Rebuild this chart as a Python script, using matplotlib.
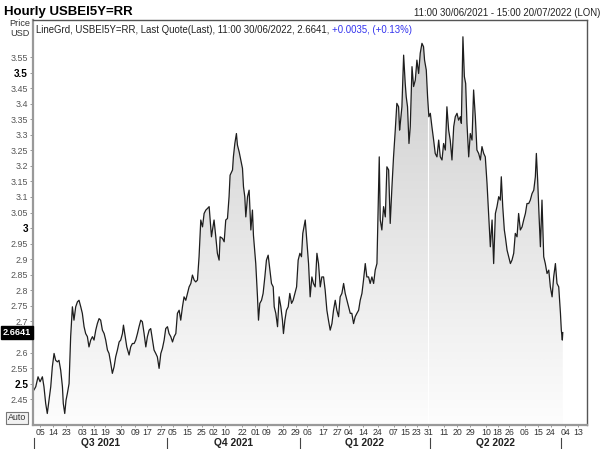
import numpy as np
import pandas as pd
import matplotlib
matplotlib.use('Agg')
import matplotlib.pyplot as plt
import matplotlib.dates as mdates
import matplotlib.transforms as mtransforms
from matplotlib.colors import LinearSegmentedColormap

plt.rcParams['font.family'] = ['Liberation Sans', 'DejaVu Sans']

start = pd.Timestamp('2021-06-30')

# days since 30/06/2021 and the quote at that time
day_offset = [
    0.7, 1.9, 3.5, 4.9, 6.5, 7.6, 8.8, 9.9, 11.1, 12.3, 13.4, 14.6, 15.7, 16.9, 18.0, 19.2,
    20.4, 21.0, 22.0, 22.9, 23.8, 25.0, 26.1, 27.3, 28.4, 29.6, 30.8, 31.9, 33.1, 34.2,
    35.4, 36.5, 37.7, 38.8, 40.0, 41.2, 42.3, 43.5, 44.6, 45.8, 46.9, 48.1, 49.3, 50.4,
    51.6, 52.7, 53.9, 55.0, 56.2, 57.3, 58.5, 59.7, 60.8, 62.0, 62.7, 63.6, 65.0, 66.6,
    67.7, 68.9, 70.1, 71.2, 72.4, 73.5, 74.7, 75.8, 77.0, 78.2, 79.3, 80.5, 81.6, 82.8,
    83.9, 85.1, 86.2, 87.4, 88.6, 89.7, 90.9, 92.0, 93.2, 94.3, 95.5, 96.7, 97.8, 99.0,
    100.1, 101.3, 102.4, 103.6, 104.7, 105.9, 107.1, 108.2, 109.4, 110.5, 111.7, 112.8,
    114.0, 115.1, 116.3, 117.5, 118.6, 119.8, 120.9, 122.1, 122.8, 123.7, 124.4, 125.5,
    126.7, 127.8, 129.0, 129.7, 131.3, 132.5, 133.6, 134.8, 135.9, 136.6, 138.3, 138.9,
    139.9, 141.0, 141.7, 142.9, 144.0, 145.2, 145.9, 146.8, 147.5, 148.7, 149.8, 151.0,
    152.1, 152.8, 154.4, 155.6, 156.3, 157.2, 158.4, 159.5, 160.7, 161.8, 163.0, 164.2,
    165.3, 166.5, 167.2, 168.3, 169.5, 170.6, 171.8, 172.9, 173.6, 174.6, 175.7, 176.9,
    178.0, 179.2, 180.3, 181.5, 182.7, 183.8, 185.0, 186.1, 187.0, 188.7, 189.8, 191.0,
    192.1, 193.3, 194.4, 195.6, 196.8, 197.9, 199.1, 200.2, 201.4, 202.5, 203.7, 204.8,
    206.0, 207.2, 208.3, 209.5, 210.6, 211.8, 212.9, 214.1, 215.3, 216.4, 217.6, 218.7,
    219.9, 221.0, 222.2, 223.3, 224.5, 225.7, 226.8, 228.0, 229.1, 230.3, 231.4, 232.6,
    233.7, 234.9, 236.1, 237.2, 238.4, 239.1, 240.0, 240.7, 241.8, 243.0, 244.2, 245.3,
    246.5, 247.6, 248.8, 249.9, 251.1, 252.2, 253.4, 254.1, 254.6, 255.7, 256.9, 258.0,
    258.7, 259.6, 260.6, 261.5, 262.7, 263.8, 265.0, 266.1, 267.3, 268.4, 269.6, 270.7,
    271.4, 272.6, 273.5, 274.4, 275.4, 276.5, 277.7, 278.8, 280.0, 281.2, 282.3, 283.5,
    284.6, 285.8, 286.9, 288.1, 289.2, 290.4, 291.6, 292.7, 293.9, 295.0, 296.2, 296.9,
    298.0, 299.0, 299.9, 300.8, 302.0, 303.1, 304.3, 305.4, 306.6, 307.7, 308.9, 310.1,
    311.2, 312.4, 313.5, 314.7, 315.8, 317.0, 318.2, 319.3, 320.5, 321.6, 322.8, 323.9,
    324.6, 325.6, 326.7, 327.4, 328.6, 329.7, 330.9, 332.0, 333.2, 334.3, 335.5, 336.6,
    337.8, 339.0, 340.1, 341.3, 342.4, 343.6, 344.7, 345.9, 347.1, 348.2, 348.9, 349.8,
    350.8, 351.7, 352.8, 354.0, 355.1, 356.3, 357.5, 358.6, 359.8, 360.9, 362.1, 363.2,
    364.4, 365.6, 366.2, 366.9, 367.2,
]
value = [
    2.480, 2.490, 2.522, 2.506, 2.522, 2.490, 2.436, 2.404, 2.447, 2.490, 2.554, 2.597,
    2.575, 2.570, 2.575, 2.543, 2.490, 2.436, 2.404, 2.447, 2.468, 2.500, 2.651, 2.747,
    2.704, 2.747, 2.763, 2.768, 2.747, 2.726, 2.683, 2.661, 2.651, 2.618, 2.640, 2.651,
    2.640, 2.672, 2.693, 2.709, 2.704, 2.672, 2.661, 2.640, 2.608, 2.597, 2.565, 2.533,
    2.554, 2.586, 2.608, 2.634, 2.640, 2.661, 2.688, 2.661, 2.618, 2.592, 2.618, 2.629,
    2.629, 2.640, 2.661, 2.683, 2.704, 2.699, 2.661, 2.618, 2.651, 2.672, 2.677, 2.640,
    2.608, 2.597, 2.586, 2.549, 2.597, 2.613, 2.640, 2.677, 2.683, 2.661, 2.651, 2.634,
    2.651, 2.661, 2.726, 2.736, 2.704, 2.747, 2.779, 2.768, 2.790, 2.811, 2.822, 2.849,
    2.833, 2.827, 2.833, 2.908, 3.026, 3.004, 3.047, 3.058, 3.063, 3.069, 3.026, 2.972,
    2.994, 3.026, 2.972, 2.919, 2.897, 2.972, 2.967, 2.956, 3.026, 3.031, 3.101, 3.170,
    3.187, 3.229, 3.272, 3.304, 3.267, 3.245, 3.219, 3.192, 3.133, 3.101, 3.036, 3.101,
    3.122, 2.994, 3.058, 2.977, 2.886, 2.779, 2.704, 2.758, 2.768, 2.790, 2.843, 2.897,
    2.913, 2.865, 2.822, 2.811, 2.747, 2.726, 2.683, 2.779, 2.747, 2.704, 2.661, 2.704,
    2.736, 2.747, 2.790, 2.758, 2.768, 2.790, 2.811, 2.897, 2.919, 2.908, 2.983, 3.026,
    2.961, 2.886, 2.779, 2.843, 2.822, 2.811, 2.919, 2.886, 2.811, 2.843, 2.843, 2.801,
    2.736, 2.704, 2.672, 2.693, 2.736, 2.768, 2.736, 2.715, 2.779, 2.790, 2.822, 2.790,
    2.768, 2.747, 2.726, 2.726, 2.693, 2.715, 2.726, 2.736, 2.768, 2.790, 2.833, 2.886,
    2.843, 2.843, 2.822, 2.843, 2.822, 2.865, 2.886, 3.036, 3.229, 3.026, 2.994, 3.069,
    3.036, 3.197, 3.187, 3.015, 3.133, 3.229, 3.315, 3.401, 3.390, 3.315, 3.337, 3.390,
    3.556, 3.465, 3.422, 3.390, 3.272, 3.326, 3.519, 3.455, 3.476, 3.540, 3.497, 3.562,
    3.594, 3.583, 3.540, 3.508, 3.422, 3.358, 3.369, 3.326, 3.283, 3.240, 3.229, 3.283,
    3.229, 3.219, 3.272, 3.251, 3.390, 3.315, 3.283, 3.219, 3.326, 3.358, 3.369, 3.347,
    3.358, 3.337, 3.615, 3.487, 3.465, 3.337, 3.229, 3.304, 3.283, 3.444, 3.358, 3.251,
    3.240, 3.219, 3.262, 3.240, 3.229, 3.144, 3.047, 2.940, 3.026, 2.886, 3.047, 3.069,
    3.101, 3.090, 3.165, 3.069, 2.994, 2.972, 2.929, 2.908, 2.886, 2.897, 2.919, 2.983,
    2.972, 3.047, 2.994, 3.004, 3.026, 3.047, 3.079, 3.079, 3.090, 3.111, 3.122, 3.165,
    3.240, 3.154, 3.036, 2.940, 3.090, 2.908, 2.886, 2.854, 2.865, 2.811, 2.779, 2.843,
    2.886, 2.822, 2.811, 2.726, 2.672, 2.640, 2.6641,
]

x_ticks = [
    '2021-07-05', '2021-07-14', '2021-07-23', '2021-08-03', '2021-08-11', '2021-08-19',
    '2021-08-30', '2021-09-09', '2021-09-17', '2021-09-27', '2021-10-05', '2021-10-15',
    '2021-10-25', '2021-11-02', '2021-11-10', '2021-11-22', '2021-12-01', '2021-12-09',
    '2021-12-20', '2021-12-29', '2022-01-06', '2022-01-17', '2022-01-27', '2022-02-04',
    '2022-02-14', '2022-02-24', '2022-03-07', '2022-03-15', '2022-03-23', '2022-03-31',
    '2022-04-11', '2022-04-20', '2022-04-29', '2022-05-10', '2022-05-18', '2022-05-26',
    '2022-06-06', '2022-06-15', '2022-06-24', '2022-07-04', '2022-07-13',
]
quarters = ['Q3 2021', 'Q4 2021', 'Q1 2022', 'Q2 2022']
quarter_starts = ['2021-07-01', '2021-10-01', '2022-01-01', '2022-04-01', '2022-07-01']
y_ticks = [2.45, 2.5, 2.55, 2.6, 2.65, 2.7, 2.75, 2.8, 2.85, 2.9, 2.95, 3.0,
           3.05, 3.1, 3.15, 3.2, 3.25, 3.3, 3.35, 3.4, 3.45, 3.5, 3.55]
last_quote = 2.6641

dates = start + pd.to_timedelta(day_offset, unit='D')
x = mdates.date2num(dates.to_pydatetime())

fig = plt.figure(figsize=(6.02, 4.49), dpi=100)
ax = fig.add_axes([33 / 602, 24 / 449, 554 / 602, 405 / 449])

y_lo, y_hi = 2.367, 3.669
x_lo = mdates.date2num(start)
x_hi = mdates.date2num(start + pd.Timedelta(days=384))
ax.set_xlim(x_lo, x_hi)
ax.set_ylim(y_lo, y_hi)

# gradient area under the line
poly = ax.fill_between(x, value, y_lo, facecolor='none', edgecolor='none')
cmap = LinearSegmentedColormap.from_list('grad', ['#fdfdfd', '#cdcdcd'])
grad = np.linspace(0, 1, 256).reshape(-1, 1)
img = ax.imshow(grad, extent=[x_lo, x_hi, y_lo, 3.62], origin='lower',
                aspect='auto', cmap=cmap, zorder=1)
clip = poly.get_paths()[0]
img.set_clip_path(clip, transform=ax.transData)
sep = ax.axvline(mdates.date2num(pd.Timestamp('2022-03-31')), color='white',
                 lw=0.8, zorder=1.5)
sep.set_clip_path(clip, transform=ax.transData)

ax.plot(x, value, color='#1e1e1e', lw=0.9, zorder=2)

# y axis
ax.set_yticks(y_ticks)
ylabels = []
for v in y_ticks:
    ylabels.append('' if abs(v - 2.65) < 1e-9 else f'{v:g}')
ax.set_yticklabels(ylabels)
for lab, v in zip(ax.get_yticklabels(), y_ticks):
    if abs(v * 2 - round(v * 2)) < 1e-9:
        lab.set_fontweight('bold')
        lab.set_fontsize(7.2)
        lab.set_color('black')
    else:
        lab.set_fontsize(6.4)
        lab.set_color('#555555')
ax.tick_params(axis='y', length=2.5, width=0.6, color='#888888', pad=1)

# x axis
xt = mdates.date2num(pd.to_datetime(x_ticks).to_pydatetime())
ax.set_xticks(xt)
ax.set_xticklabels([d[-2:] for d in x_ticks], fontsize=6.3, color='#333333')
ax.tick_params(axis='x', length=1.5, width=0.6, color='#888888', pad=0.5)

for side in ['top', 'right']:
    ax.spines[side].set_color('#555555')
    ax.spines[side].set_linewidth(1.0)
for side in ['left', 'bottom']:
    ax.spines[side].set_color('#999999')
    ax.spines[side].set_linewidth(1.6)

# quarter labels and dividers
btrans = mtransforms.blended_transform_factory(ax.transData, ax.transAxes)
qs = mdates.date2num(pd.to_datetime(quarter_starts).to_pydatetime())
for i, q in enumerate(quarters):
    ax.text((qs[i] + qs[i + 1]) / 2, -0.044, q, transform=btrans, ha='center',
            va='center', fontsize=7.4, fontweight='bold', color='#222222')
for q in qs:
    ax.plot([q, q], [-0.032, -0.062], transform=btrans, color='#444444', lw=0.8,
            clip_on=False)

# last quote marker on the y axis
ytrans = mtransforms.blended_transform_factory(ax.transAxes, ax.transData)
ax.text(-0.003, last_quote, f'{last_quote:.4f}', transform=ytrans, ha='right',
        va='center', fontsize=6.6, fontweight='bold', color='white',
        bbox=dict(boxstyle='square,pad=0.2', facecolor='black', edgecolor='black'))

# headers
fig.text(4 / 602, 1 - 12 / 449, 'Hourly USBEI5Y=RR', fontsize=9.5,
         fontweight='bold', ha='left', va='center')
fig.text(600 / 602, 1 - 13 / 449, '11:00 30/06/2021 - 15:00 20/07/2022 (LON)',
         fontsize=6.9, ha='right', va='center', color='#222222')
fig.text(30 / 602, 1 - 23 / 449, 'Price', fontsize=6.6, ha='right', va='center',
         color='#333333')
fig.text(30 / 602, 1 - 34 / 449, 'USD', fontsize=6.6, ha='right', va='center',
         color='#333333')
t1 = ax.text(0.005, 0.988, 'LineGrd, USBEI5Y=RR, Last Quote(Last), 11:00 30/06/2022, 2.6641, ',
             transform=ax.transAxes, fontsize=6.9, ha='left', va='top', color='#222222')
ax.annotate('+0.0035, (+0.13%)', xy=(1, 0), xycoords=t1, ha='left', va='bottom',
            fontsize=6.9, color='#3333ee')
fig.text(17 / 602, 1 - 418 / 449, 'Auto', fontsize=6.4, ha='center', va='center',
         color='#333333',
         bbox=dict(boxstyle='square,pad=0.15', facecolor='#f2f2f2', edgecolor='#777777',
                   lw=0.8))

fig.savefig('out.png', dpi=100)
